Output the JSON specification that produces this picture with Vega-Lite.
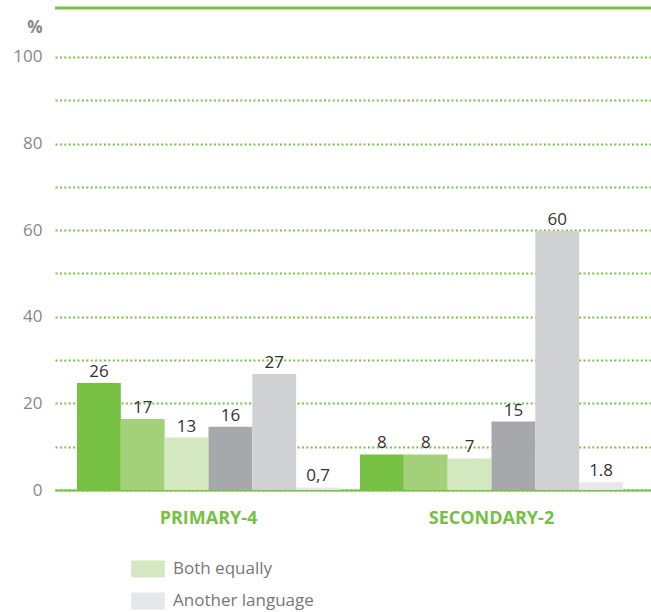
{
  "$schema": "https://vega.github.io/schema/vega-lite/v6.json",
  "width": 596,
  "height": 482,
  "autosize": {"type": "none"},
  "padding": {"left": 55, "top": 8, "right": 0, "bottom": 122},
  "config": {"view": {"stroke": null}, "font": "Open Sans"},
  "data": {
    "values": [
      {"level": "PRIMARY-4", "answer": "Only the language of instruction", "value": 24.7, "label": "26"},
      {"level": "PRIMARY-4", "answer": "Mostly the language of instruction", "value": 16.4, "label": "17"},
      {"level": "PRIMARY-4", "answer": "Both equally", "value": 12.1, "label": "13"},
      {"level": "PRIMARY-4", "answer": "Mostly the other language", "value": 14.6, "label": "16"},
      {"level": "PRIMARY-4", "answer": "Only the other language", "value": 26.8, "label": "27"},
      {"level": "PRIMARY-4", "answer": "Another language", "value": 0.6, "label": "0,7"},
      {"level": "SECONDARY-2", "answer": "Only the language of instruction", "value": 8.2, "label": "8"},
      {"level": "SECONDARY-2", "answer": "Mostly the language of instruction", "value": 8.2, "label": "8"},
      {"level": "SECONDARY-2", "answer": "Both equally", "value": 7.3, "label": "7"},
      {"level": "SECONDARY-2", "answer": "Mostly the other language", "value": 15.8, "label": "15"},
      {"level": "SECONDARY-2", "answer": "Only the other language", "value": 59.8, "label": "60"},
      {"level": "SECONDARY-2", "answer": "Another language", "value": 1.8, "label": "1.8"}
    ]
  },
  "layer": [
    {
      "mark": {"type": "bar"},
      "encoding": {
        "x": {"field": "level", "type": "nominal", "sort": ["PRIMARY-4", "SECONDARY-2"],
          "scale": {"paddingInner": 0.0707, "paddingOuter": 0.0883, "align": 0.44},
          "axis": {"title": null, "labelAngle": 0, "ticks": false, "domainColor": "#76c043", "domainWidth": 2,
            "labelColor": "#76c043", "labelFontWeight": "bold", "labelFontSize": 18, "labelPadding": 19}},
        "xOffset": {"field": "answer", "type": "nominal",
          "sort": ["Only the language of instruction", "Mostly the language of instruction", "Both equally", "Mostly the other language", "Only the other language", "Another language"],
          "scale": {"paddingInner": 0, "paddingOuter": 0}},
        "y": {"field": "value", "type": "quantitative", "scale": {"domain": [0, 111.3], "nice": false},
          "axis": {"values": [0, 10, 20, 30, 40, 50, 60, 70, 80, 90, 100],
            "labelExpr": "datum.value % 20 == 0 ? datum.label : ''",
            "grid": true, "gridColor": "#76c043", "gridDash": [2, 2.4], "gridWidth": 2,
            "domain": false, "ticks": false, "labelColor": "#888888", "labelFontSize": 17, "labelPadding": 13,
            "title": "%", "titleAngle": 0, "titleAlign": "right", "titleBaseline": "middle",
            "titleX": -13, "titleY": 19, "titleFontSize": 17, "titleFontWeight": "bold", "titleColor": "#888888"}},
        "color": {"field": "answer", "type": "nominal",
          "scale": {"domain": ["Only the language of instruction", "Mostly the language of instruction", "Both equally", "Mostly the other language", "Only the other language", "Another language"],
            "range": ["#76c043", "#a2d179", "#d3e8c0", "#a7a8ab", "#d0d1d3", "#e6e7e8"]},
          "legend": {"values": ["Both equally", "Another language"], "title": null, "orient": "none",
            "legendX": 79, "legendY": 547, "direction": "vertical",
            "symbolType": "M-1.2,-0.6H1.2V0.6H-1.2Z", "symbolSize": 784, "symbolStrokeWidth": 0, "symbolOpacity": 1,
            "labelFontSize": 17, "labelColor": "#777777", "labelOffset": 11, "rowPadding": 9, "labelLimit": 400}}
      }
    },
    {
      "mark": {"type": "text", "baseline": "alphabetic", "dy": -6, "fontSize": 17, "color": "#333333"},
      "encoding": {
        "x": {"field": "level", "type": "nominal", "sort": ["PRIMARY-4", "SECONDARY-2"]},
        "xOffset": {"field": "answer", "type": "nominal",
          "sort": ["Only the language of instruction", "Mostly the language of instruction", "Both equally", "Mostly the other language", "Only the other language", "Another language"]},
        "y": {"field": "value", "type": "quantitative"},
        "text": {"field": "label", "type": "nominal"}
      }
    },
    {
      "data": {"values": [{"top": 111.3}]},
      "mark": {"type": "rule", "color": "#76c043", "strokeWidth": 3},
      "encoding": {"y": {"field": "top", "type": "quantitative"}}
    }
  ]
}
